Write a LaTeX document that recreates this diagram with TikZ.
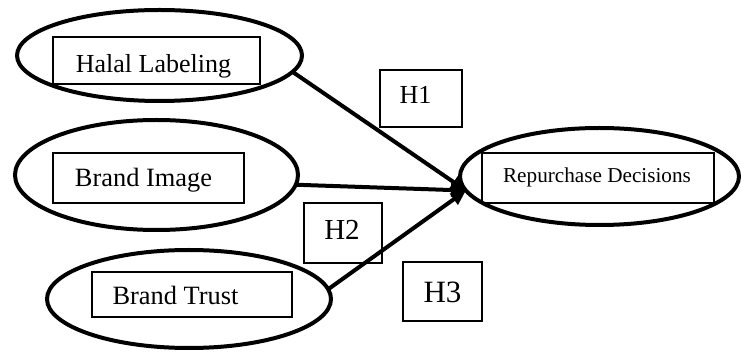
\documentclass[tikz,border=0pt]{standalone}
\usepackage{fontspec}
\setmainfont{Liberation Serif}
\usetikzlibrary{shapes.geometric,arrows.meta}
\begin{document}
\begin{tikzpicture}[x=1pt,y=-1pt,
  oval/.style={draw,ellipse,line width=4pt,inner sep=0pt,outer sep=0pt},
  frame/.style={draw,rectangle,line width=1.1pt,inner sep=0pt,outer sep=0pt},
  txt/.style={anchor=base,inner sep=0pt,outer sep=0pt},
  path/.style={line width=4pt,-{Triangle[length=15pt,width=13pt]}}
]
\useasboundingbox (0,0) rectangle (741,352);
% ellipses
\node[oval,minimum width=285pt,minimum height=91pt] (hle) at (159.5,55.5) {};
\node[oval,minimum width=283pt,minimum height=110pt] (bie) at (156.5,175) {};
\node[oval,minimum width=284pt,minimum height=98pt] (bte) at (189,299) {};
\node[oval,minimum width=279pt,minimum height=97pt] (rde) at (599.5,176.5) {};
% inner boxes
\node[frame,minimum width=207pt,minimum height=47pt] (hl) at (156.5,60.5) {};
\node[frame,minimum width=191pt,minimum height=50pt] (bi) at (148.5,178) {};
\node[frame,minimum width=200pt,minimum height=45pt] (bt) at (192,294.5) {};
\node[frame,minimum width=232pt,minimum height=50pt] (rd) at (598,178) {};
\node[txt,font=\fontsize{26}{30}\selectfont] (hlt) at (153.5,72.5) {Halal Labeling};
\node[txt,font=\fontsize{26.4}{30}\selectfont] (bit) at (143.5,187) {Brand Image};
\node[txt,font=\fontsize{26.4}{30}\selectfont] (btt) at (175.5,305) {Brand Trust};
\node[txt,font=\fontsize{21.2}{26}\selectfont] (rdt) at (597,183) {Repurchase Decisions};
% hypothesis boxes
\node[frame,minimum width=82pt,minimum height=57pt] (h1) at (421,98.5) {};
\node[frame,minimum width=78pt,minimum height=60pt] (h2) at (343,233) {};
\node[frame,minimum width=79pt,minimum height=59pt] (h3) at (442.5,291.5) {};
\node[txt,font=\fontsize{26}{30}\selectfont] (h1t) at (415.5,104) {H1};
\node[txt,font=\fontsize{29}{32}\selectfont] (h2t) at (342,240) {H2};
\node[txt,font=\fontsize{31}{34}\selectfont] (h3t) at (442.5,303) {H3};
% arrows
\draw[path] (hle.-7) -- (rde.186);
\draw[path] (bie.-4) -- (rde.186);
\draw[path] (bte.4) -- (rde.186);
\end{tikzpicture}
\end{document}
